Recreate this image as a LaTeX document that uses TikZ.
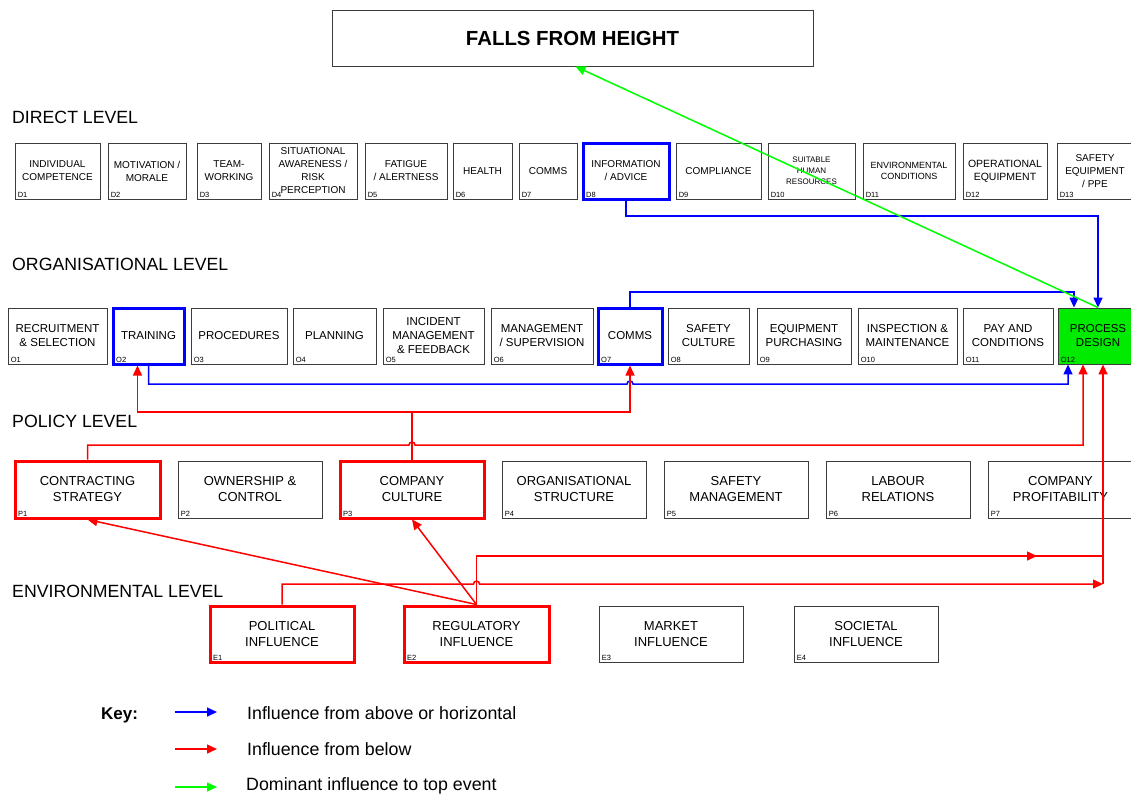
\documentclass[tikz,border=0pt]{standalone}
\usepackage{fontspec}
\setmainfont{Liberation Sans}
\usetikzlibrary{arrows.meta,calc}

\definecolor{linkblue}{RGB}{0,0,255}
\definecolor{linkred}{RGB}{255,0,0}
\definecolor{linkgreen}{RGB}{0,255,0}
\definecolor{designgreen}{RGB}{0,235,0}
\definecolor{boxgrey}{RGB}{60,60,60}

% font size / baseline skip in pt
\newcommand{\fsz}[2]{\fontsize{#1pt}{#2pt}\selectfont}
\newcommand{\idshift}{(3pt,1.5pt)}

% \factorbox[style]{name}{x1}{y1}{x2}{y2}{text}{id}
\newcommand{\factorbox}[8][]{%
  \node[factor,#1,minimum width={#5-#3},minimum height={#6-#4}]
    (#2) at ({(#3+#5)/2},{(#4+#6)/2}) {#7};
  \node[idlabel] (#2id) at ([shift={\idshift}]#2.south west) {#8};
}

\tikzset{
  factor/.style={draw=boxgrey, line width=0.9pt, fill=white, inner sep=1pt,
    align=center, text=black, font=\fsz{10}{13},
    /utils/exec={\gdef\idshift{(3pt,1.5pt)}}},
  thickblue/.style={draw=linkblue, line width=3pt,
    /utils/exec={\gdef\idshift{(4.5pt,3pt)}}},
  thickred/.style={draw=linkred, line width=3pt,
    /utils/exec={\gdef\idshift{(4.5pt,3pt)}}},
  orglevel/.style={font=\fsz{11.5}{14}},
  pollevel/.style={font=\fsz{13}{16}},
  envlevel/.style={font=\fsz{13}{15.5}},
  idlabel/.style={anchor=south west, inner sep=0pt, font=\fsz{7.5}{8}},
  heading/.style={anchor=base west, inner sep=0pt, font=\fsz{17.7}{20}},
  keytext/.style={anchor=base west, inner sep=0pt, font=\fsz{17.8}{20}},
  topevent/.style={draw=boxgrey, line width=0.9pt, fill=white,
    font=\fsz{20.4}{24}\bfseries},
  link/.style={line width=1.5pt, line join=miter},
  bluelink/.style={link, draw=linkblue},
  redlink/.style={link, draw=linkred},
  greenlink/.style={link, draw=linkgreen},
  >={Triangle[length=10pt,width=9pt]},
}

\begin{document}
\begin{tikzpicture}[x=1pt,y=-1pt]
\fill[white] (0,0) rectangle (1131,793);
\useasboundingbox (0,0) rectangle (1131,793);

% top event
\node[topevent, minimum width=481, minimum height=56] (top) at (572.5,38) {FALLS FROM HEIGHT};

% level headings
\node[heading] (hdirect) at (12,123) {DIRECT LEVEL};
\node[heading] (horg) at (12,270) {ORGANISATIONAL LEVEL};
\node[heading] (hpol) at (12,427) {POLICY LEVEL};
\node[heading] (henv) at (12,597) {ENVIRONMENTAL LEVEL};

% direct level
\factorbox{D1}{15}{143}{100}{199}{INDIVIDUAL\\COMPETENCE}{D1}
\factorbox{D2}{108}{143}{186}{199}{MOTIVATION /\\MORALE}{D2}
\factorbox{D3}{197}{143}{261}{199}{TEAM-\\WORKING}{D3}
\factorbox{D4}{269}{143}{357}{199}{SITUATIONAL\\AWARENESS /\\RISK\\PERCEPTION}{D4}
\factorbox{D5}{365}{143}{447}{199}{FATIGUE\\/ ALERTNESS}{D5}
\factorbox{D6}{453}{143}{512}{199}{HEALTH}{D6}
\factorbox{D7}{519}{143}{577}{199}{COMMS}{D7}
\factorbox[thickblue]{D8}{583}{143}{669}{199}{INFORMATION\\/ ADVICE}{D8}
\factorbox{D9}{676}{143}{761}{199}{COMPLIANCE}{D9}
\factorbox[font=\fsz{8}{11}]{D10}{768}{143}{855}{199}{SUITABLE\\HUMAN\\RESOURCES}{D10}
\factorbox[font=\fsz{9}{11}]{D11}{863}{143}{955}{199}{ENVIRONMENTAL\\CONDITIONS}{D11}
\factorbox[font=\fsz{10.5}{13}]{D12}{963}{143}{1047}{199}{OPERATIONAL\\EQUIPMENT}{D12}
\factorbox{D13}{1057}{143}{1133}{199}{SAFETY\\EQUIPMENT\\/ PPE}{D13}

% organisational level
\factorbox[orglevel]{O1}{8}{308}{107}{364}{RECRUITMENT\\\& SELECTION}{O1}
\factorbox[orglevel,thickblue]{O2}{113}{308}{184}{364}{TRAINING}{O2}
\factorbox[orglevel]{O3}{191}{308}{287}{364}{PROCEDURES}{O3}
\factorbox[orglevel]{O4}{293}{308}{376}{364}{PLANNING}{O4}
\factorbox[orglevel]{O5}{383}{308}{484}{364}{INCIDENT\\MANAGEMENT\\\& FEEDBACK}{O5}
\factorbox[orglevel]{O6}{491}{308}{593}{364}{MANAGEMENT\\/ SUPERVISION}{O6}
\factorbox[orglevel,thickblue]{O7}{598}{308}{662}{364}{COMMS}{O7}
\factorbox[orglevel]{O8}{668}{308}{749}{364}{SAFETY\\CULTURE}{O8}
\factorbox[orglevel]{O9}{757}{308}{851}{364}{EQUIPMENT\\PURCHASING}{O9}
\factorbox[orglevel]{O10}{858}{308}{957}{364}{INSPECTION \&\\MAINTENANCE}{O10}
\factorbox[orglevel]{O11}{963}{308}{1053}{364}{PAY AND\\CONDITIONS}{O11}
\factorbox[orglevel,fill=designgreen]{O12}{1058}{308}{1138}{364}{PROCESS\\DESIGN}{O12}

% policy level
\factorbox[pollevel,thickred]{P1}{15}{461}{160}{518}{CONTRACTING\\STRATEGY}{P1}
\factorbox[pollevel]{P2}{178}{461}{322}{518}{OWNERSHIP \&\\CONTROL}{P2}
\factorbox[pollevel,thickred]{P3}{340}{461}{484}{518}{COMPANY\\CULTURE}{P3}
\factorbox[pollevel]{P4}{502}{461}{646}{518}{ORGANISATIONAL\\STRUCTURE}{P4}
\factorbox[pollevel]{P5}{664}{461}{808}{518}{SAFETY\\MANAGEMENT}{P5}
\factorbox[pollevel]{P6}{826}{461}{970}{518}{LABOUR\\RELATIONS}{P6}
\factorbox[pollevel]{P7}{988}{461}{1133}{518}{COMPANY\\PROFITABILITY}{P7}

% environmental level
\factorbox[envlevel,thickred]{E1}{210}{606}{354}{662}{POLITICAL\\INFLUENCE}{E1}
\factorbox[envlevel,thickred]{E2}{404}{606}{549}{662}{REGULATORY\\INFLUENCE}{E2}
\factorbox[envlevel]{E3}{599}{606}{743}{662}{MARKET\\INFLUENCE}{E3}
\factorbox[envlevel]{E4}{794}{606}{938}{662}{SOCIETAL\\INFLUENCE}{E4}

% routing rows and entry points
\coordinate (rowB1) at (0,216);
\coordinate (rowB2) at (0,292);
\coordinate (rowB3) at (0,384);
\coordinate (rowR1) at (0,412);
\coordinate (rowR2) at (0,445);
\coordinate (rowR3) at (0,556);
\coordinate (rowR4) at (0,584);
\coordinate (inO12b) at ($(O12.north)+(-24,0)$);
\coordinate (inO12c) at ($(O12.south)+(-30,0)$);
\coordinate (inO12d) at ($(O12.south)+(-15,0)$);
\coordinate (inO12e) at ($(O12.south)+(5,0)$);
\coordinate (inO2) at ($(O2.south)+(-11,0)$);

% influence from above or horizontal
\draw[bluelink,->] (D8.south) |- (rowB1 -| O12.north) -- (O12.north);
\draw[bluelink,->] (O7.north) |- (rowB2 -| inO12b) -- (inO12b);
\draw[bluelink,->] (O2.south) -- (O2.south |- rowB3)
  -- ($(O7.south |- rowB3)+(-3,0)$) arc[start angle=180,end angle=0,radius=3pt]
  -- (rowB3 -| inO12c) -- (inO12c);

% influence from below
\draw[redlink,->] (P3.north) |- (rowR1 -| inO2) -- (inO2);
\draw[redlink,->] (P3.north |- rowR1) -| (O7.south);
\draw[redlink,->] (P1.north) -- (P1.north |- rowR2)
  -- ($(P3.north |- rowR2)+(-3,0)$) arc[start angle=180,end angle=0,radius=3pt]
  -- (rowR2 -| inO12d) -- (inO12d);
\draw[redlink] (E2.north) |- (rowR3 -| inO12e);
\draw[redlink,->] (E2.north |- rowR3) -- ($(rowR3 -| inO12e)+(-66,0)$);
\draw[redlink,->] (E1.north) -- (E1.north |- rowR4)
  -- ($(E2.north |- rowR4)+(-3,0)$) arc[start angle=180,end angle=0,radius=3pt]
  -- (rowR4 -| inO12e);
\draw[redlink,->] (rowR4 -| inO12e) -- (inO12e);
\draw[redlink,->] (E2.north) -- (P1.south);
\draw[redlink,->] (E2.north) -- (P3.south);

% dominant influence to the top event
\draw[greenlink,->] (O12.north) -- ($(top.south)+(3,0)$);

% key
\node[keytext, font=\fsz{17}{20}\bfseries] (keyhead) at (101,719) {Key:};
\coordinate (kb0) at (175,712); \coordinate (kb1) at (217,712);
\coordinate (kr0) at (175,749); \coordinate (kr1) at (217,749);
\coordinate (kg0) at (175,787); \coordinate (kg1) at (217,787);
\draw[bluelink,->] (kb0) -- (kb1);
\draw[redlink,->] (kr0) -- (kr1);
\draw[greenlink,->] (kg0) -- (kg1);
\node[keytext] (kbt) at (247,719) {Influence from above or horizontal};
\node[keytext] (krt) at (247,755) {Influence from below};
\node[keytext] (kgt) at (246,790) {Dominant influence to top event};
\end{tikzpicture}
\end{document}
